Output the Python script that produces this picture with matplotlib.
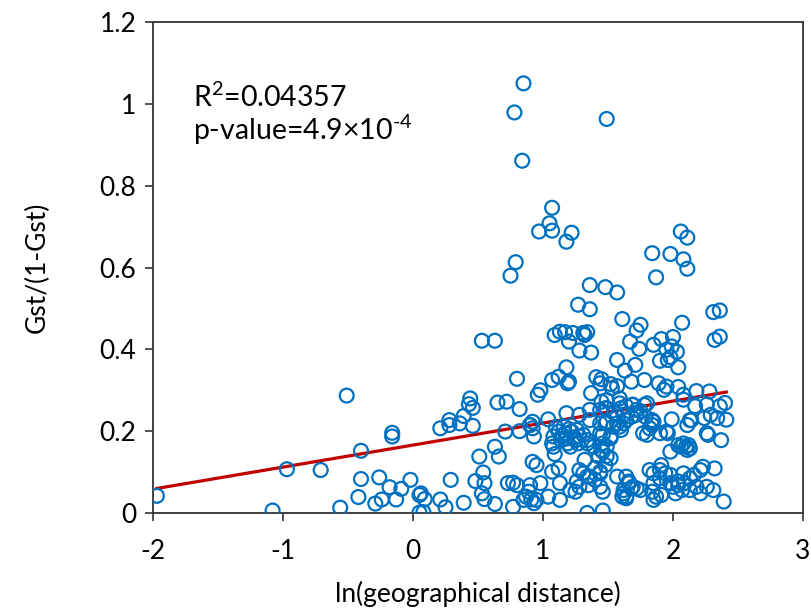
import matplotlib
matplotlib.use("Agg")
import matplotlib.pyplot as plt
import numpy as np

plt.rcParams['font.family'] = ['Lato', 'DejaVu Sans']
plt.rcParams['axes.unicode_minus'] = False
plt.rcParams['mathtext.fontset'] = 'custom'
plt.rcParams['mathtext.rm'] = 'Lato'

# ---- data ----
left_x = [-1.97, -1.08, -0.97, -0.71, -0.51, -0.56, -0.40, -0.16, -0.16, -0.40, -0.42, -0.26, -0.29,
          -0.24, -0.18, -0.13, -0.09, -0.02, 0.05, 0.05]
left_y = [0.042, 0.006, 0.107, 0.105, 0.287, 0.013, 0.152, 0.196, 0.187, 0.083, 0.039, 0.087, 0.023,
          0.033, 0.063, 0.033, 0.059, 0.081, 0.044, 0.001]

mid_x = [0.53, 0.63, 0.80, 0.44, 0.43, 0.46, 0.65, 0.72, 0.82, 0.39, 0.28, 0.28, 0.21, 0.36, 0.46,
         0.71, 0.82, 0.92, 0.93, 0.63, 0.66, 0.51, 0.92, 0.95, 0.06, 0.09, 0.08, 0.21, 0.25, 0.29,
         0.39, 0.54, 0.55, 0.48, 0.53, 0.55, 0.63, 0.73, 0.77, 0.80, 0.77, 0.90, 0.89, 0.91, 0.85,
         0.95, 0.96, 0.92, 0.98, 0.93, 0.87, 0.90]
mid_y = [0.421, 0.421, 0.328, 0.280, 0.266, 0.257, 0.270, 0.272, 0.254, 0.237, 0.227, 0.215, 0.207,
         0.219, 0.213, 0.199, 0.200, 0.223, 0.187, 0.162, 0.138, 0.138, 0.125, 0.117, 0.048, 0.034,
         0.002, 0.033, 0.014, 0.081, 0.025, 0.099, 0.073, 0.078, 0.048, 0.034, 0.022, 0.073, 0.074,
         0.068, 0.015, 0.068, 0.052, 0.033, 0.032, 0.032, 0.289, 0.207, 0.073, 0.024, 0.040, 0.215]

high_x = [0.85, 0.78, 1.49, 0.84, 1.07, 1.05, 1.07, 0.97, 1.22, 1.18, 0.79, 0.75, 1.36, 1.48, 1.57,
          1.27, 1.36, 1.61, 1.87, 2.07, 2.31, 2.36, 2.32, 2.36, 2.06, 2.11, 1.84, 1.98, 2.08, 2.11]
high_y = [1.050, 0.979, 0.963, 0.861, 0.746, 0.708, 0.690, 0.688, 0.685, 0.663, 0.613, 0.580, 0.557,
          0.552, 0.539, 0.509, 0.498, 0.474, 0.576, 0.465, 0.491, 0.495, 0.423, 0.431, 0.688, 0.673,
          0.635, 0.633, 0.620, 0.597]

upper_x = [1.75, 1.72, 1.09, 1.13, 1.17, 1.23, 1.31, 1.34, 1.32, 1.20, 1.28, 1.37, 1.67, 1.74, 1.85,
           1.91, 2.00, 1.99, 2.03, 1.95, 1.98, 1.90, 1.96, 2.04, 1.57, 1.71, 1.63, 1.18,
           1.12, 1.07, 1.20, 1.41, 1.45, 1.44, 1.52, 1.57, 1.68, 1.78, 1.89, 1.95, 2.04, 2.18, 2.28,
           0.98, 1.37, 1.59, 1.45, 1.49, 1.93, 2.08, 2.08, 1.19, 1.53]
upper_y = [0.460, 0.446, 0.435, 0.443, 0.442, 0.440, 0.440, 0.442, 0.435, 0.419, 0.397, 0.392, 0.419,
           0.401, 0.411, 0.425, 0.430, 0.407, 0.394, 0.399, 0.381, 0.372, 0.374, 0.356, 0.374, 0.362,
           0.348, 0.356, 0.333, 0.325, 0.321, 0.332, 0.327, 0.317, 0.315, 0.310, 0.321, 0.325, 0.317,
           0.309, 0.308, 0.298, 0.297, 0.300, 0.293, 0.280, 0.272, 0.276, 0.301, 0.289, 0.277, 0.317,
           0.305]

band_x = [1.18, 1.28, 1.36, 1.44, 1.49, 1.36, 1.44, 1.49, 1.54, 1.59, 1.62, 1.64, 1.68, 1.72, 1.04,
          2.17, 2.26, 2.36, 2.40, 2.29, 2.24, 2.34, 2.41, 1.99, 2.13, 2.11, 1.85, 1.82, 1.80, 1.90,
          1.96, 2.27, 2.37, 1.59, 1.60, 1.62, 1.60, 1.64, 1.69, 1.72, 1.80, 1.79, 1.84, 1.75,
          1.69, 1.78, 1.48, 1.55, 1.57, 1.48, 1.46, 1.52, 1.49, 1.46, 1.52, 1.84, 1.95, 2.14, 1.77,
          2.26, 0.90]
band_y = [0.244, 0.240, 0.252, 0.252, 0.256, 0.227, 0.219, 0.223, 0.211, 0.211, 0.219, 0.227, 0.235,
          0.240, 0.229, 0.261, 0.265, 0.261, 0.269, 0.240, 0.232, 0.232, 0.228, 0.229, 0.227, 0.215,
          0.223, 0.207, 0.191, 0.195, 0.195, 0.191, 0.178, 0.268, 0.256, 0.240, 0.203, 0.261, 0.265,
          0.252, 0.268, 0.235, 0.227, 0.249, 0.264, 0.264, 0.256, 0.244, 0.219, 0.219, 0.191, 0.183,
          0.162, 0.150, 0.134, 0.215, 0.199, 0.227, 0.195, 0.195, 0.215]

clus_x = [1.12, 1.16, 1.17, 1.14, 1.18, 1.21, 1.22, 1.26, 1.28, 1.25, 1.31, 1.34, 1.15, 1.20, 1.24,
          1.19, 1.10, 1.27, 1.08, 1.08, 1.09, 1.44, 1.52, 1.46, 1.39, 1.34, 1.45, 1.49, 1.43, 1.32,
          1.40, 1.07, 1.98, 2.04, 2.08, 2.12, 2.13, 2.11, 2.10, 2.06]
clus_y = [0.199, 0.211, 0.195, 0.178, 0.182, 0.162, 0.199, 0.203, 0.187, 0.178, 0.191, 0.178, 0.190,
          0.205, 0.185, 0.170, 0.210, 0.170, 0.187, 0.162, 0.144, 0.195, 0.187, 0.170, 0.162, 0.170,
          0.154, 0.139, 0.138, 0.130, 0.110, 0.170, 0.150, 0.166, 0.170, 0.166, 0.158, 0.154, 0.162,
          0.162]

low_x = [1.07, 1.12, 1.28, 1.31, 1.34, 1.36, 1.40, 1.44, 1.26, 1.25, 1.28, 1.35, 1.13, 1.13, 1.21,
         1.04, 1.34, 1.46, 1.57, 1.66, 1.68, 1.62, 1.64, 1.72, 1.44, 1.48, 1.44, 1.46,
         1.82, 1.85, 1.90, 1.91, 1.94, 1.98, 1.90, 1.85, 1.84, 1.87, 1.91, 1.85, 1.64, 1.66, 1.69,
         1.62, 1.61, 1.64, 1.75, 1.98, 2.00, 2.04, 2.07, 2.02, 2.08, 2.13, 2.16, 2.21, 2.23, 2.32,
         2.18, 2.21, 2.13, 2.31, 2.39, 2.09, 2.04, 2.26]
low_y = [0.101, 0.109, 0.105, 0.097, 0.089, 0.089, 0.081, 0.097, 0.077, 0.052, 0.064, 0.068, 0.073,
         0.032, 0.056, 0.040, 0.000, 0.006, 0.089, 0.077, 0.060, 0.048, 0.036, 0.060, 0.101, 0.117,
         0.064, 0.052, 0.105, 0.097, 0.105, 0.117, 0.097, 0.093, 0.085, 0.073, 0.052, 0.040, 0.044,
         0.032, 0.089, 0.073, 0.064, 0.056, 0.040, 0.040, 0.056, 0.073, 0.064, 0.068, 0.056, 0.048,
         0.097, 0.085, 0.093, 0.105, 0.113, 0.109, 0.064, 0.048, 0.056, 0.056, 0.028, 0.073, 0.077,
         0.064]

# regression line
slope = 0.0538
intercept = 0.166

r2_text = r'R$^{\mathregular{2}}$=0.04357'
p_text = 'p-value=4.9×10$^{\\mathregular{\u2010}\\mathregular{4}}$'

x_ticks = [-2, -1, 0, 1, 2, 3]
y_ticks = [0, 0.2, 0.4, 0.6, 0.8, 1.0, 1.2]
y_ticklabels = ['0', '0.2', '0.4', '0.6', '0.8', '1', '1.2']

xs = np.array(left_x + mid_x + high_x + upper_x + band_x + clus_x + low_x)
ys = np.array(left_y + mid_y + high_y + upper_y + band_y + clus_y + low_y)

fig = plt.figure(figsize=(8.11, 6.16), dpi=100)
ax = fig.add_axes([153/811, 1-513/616, 650/811, 491/616])

ax.scatter(xs, ys, s=100, facecolors='none', edgecolors='#0070C0', linewidths=1.6, zorder=3)
lx = np.array([xs.min(), xs.max()])
ax.plot(lx, intercept + slope*lx, color='#C00000', lw=2.3, zorder=2)

ax.set_xlim(-2, 3)
ax.set_ylim(0, 1.2)
ax.set_xticks(x_ticks)
ax.set_xticklabels([str(t) for t in x_ticks])
ax.set_yticks(y_ticks)
ax.set_yticklabels(y_ticklabels)
ax.tick_params(axis='both', direction='out', length=6, width=1.2, labelsize=19, color='#333333')
ax.tick_params(axis='x', pad=13)
ax.tick_params(axis='y', pad=6)
for sp in ax.spines.values():
    sp.set_linewidth(1.3)
    sp.set_color('#333333')

ax.set_xlabel('ln(geographical distance)', fontsize=19, labelpad=12)
ax.set_ylabel('Gst/(1-Gst)', fontsize=19, labelpad=36)

ax.text(0.0615, 0.847, r2_text, transform=ax.transAxes, fontsize=20.5, va='center', ha='left')
ax.text(0.0615, 0.78, p_text, transform=ax.transAxes, fontsize=20.5, va='center', ha='left')

fig.savefig('out.png', dpi=100)
